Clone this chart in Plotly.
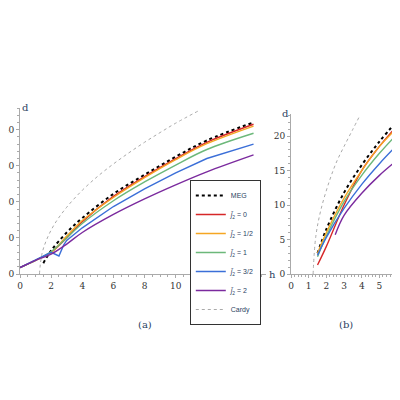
import plotly.graph_objects as go

# Panel (a)
h_a = [0, 1, 2, 3, 4, 6, 8, 10, 12, 15]
meg_h_a = [1.5, 2, 3, 4, 6, 8, 10, 12, 15]
meg_a = [3, 6.5, 11.5, 15.5, 22.2, 27.5, 32.5, 37, 42]
red_a = [1.8, 3.8, 6, 10, 14.5, 21.5, 27, 32, 36.5, 41.5]
orange_a = [1.8, 3.8, 6, 10.5, 14.8, 21.2, 26.7, 31.7, 36.1, 41]
green_a = [1.8, 3.8, 6.2, 10, 14, 20.3, 25.5, 30.2, 34.5, 39]
blue_h_a = [0, 1, 2, 2.5, 2.8, 3, 4, 6, 8, 10, 12, 15]
blue_a = [1.8, 3.8, 6, 5, 8, 9.3, 12.8, 18.7, 23.6, 28, 32, 36]
purple_h_a = [0, 1, 2, 3, 4, 6, 8, 10, 12, 15]
purple_a = [1.8, 3.8, 5.5, 8.3, 11.5, 16.5, 20.8, 24.7, 28.3, 33]
cardy_h_a = [1.25, 1.4, 1.7, 2.2, 3, 4, 5, 6, 7, 8, 9, 10, 11.5]
cardy_a = [0, 5.4, 9.4, 13.7, 18.5, 23.2, 27.1, 30.5, 33.6, 36.5, 39.2, 41.8, 45.3]

# Panel (b)
h_b = [1.5, 2, 3, 4, 5, 6]
meg_b = [3, 6.5, 11.8, 15.8, 19.2, 22.2]
red_b = [1.3, 4, 10, 15, 18.5, 21.5]
orange_b = [3, 6, 11, 15, 18.5, 21.2]
green_b = [2.5, 5.5, 10.5, 14.3, 17.5, 20.3]
blue_b = [2.7, 5.3, 9.5, 13, 16, 18.7]
purple_h_b = [2.5, 3, 4, 5, 6]
purple_b = [5.7, 8.5, 11.7, 14.3, 16.5]
cardy_h_b = [1.25, 1.4, 1.7, 2.2, 2.6, 3, 3.5, 3.9]
cardy_b = [0, 5.4, 9.4, 13.7, 16.4, 18.5, 21, 23]

names = ["MEG", "<i>j̄</i><sub>2</sub> = 0", "<i>j̄</i><sub>2</sub> = 1/2",
         "<i>j̄</i><sub>2</sub> = 1", "<i>j̄</i><sub>2</sub> = 3/2",
         "<i>j̄</i><sub>2</sub> = 2", "Cardy"]
colors = ["black", "#d62728", "#f5a623", "#6cb87a", "#3b6fd8", "#7b2a9e", "#aaaaaa"]
dashes = ["dot", "solid", "solid", "solid", "solid", "solid", "dot"]
widths = [2, 1.4, 1.4, 1.4, 1.4, 1.4, 1]

series_a = [(meg_h_a, meg_a), (h_a, red_a), (h_a, orange_a), (h_a, green_a),
            (blue_h_a, blue_a), (purple_h_a, purple_a), (cardy_h_a, cardy_a)]
series_b = [(h_b, meg_b), (h_b, red_b), (h_b, orange_b), (h_b, green_b),
            (h_b, blue_b), (purple_h_b, purple_b), (cardy_h_b, cardy_b)]

fig = go.Figure()
for i, (x, y) in enumerate(series_a):
    fig.add_trace(go.Scatter(x=x, y=y, mode="lines", name=names[i],
                             line=dict(color=colors[i], dash=dashes[i], width=widths[i],
                                       shape="linear" if i == 4 else "spline"),
                             xaxis="x", yaxis="y"))
for i, (x, y) in enumerate(series_b):
    fig.add_trace(go.Scatter(x=x, y=y, mode="lines", showlegend=False,
                             line=dict(color=colors[i], dash=dashes[i], width=widths[i], shape="spline"),
                             xaxis="x2", yaxis="y2"))

ax = dict(showgrid=False, zeroline=False, showline=True, linecolor="#aaaaaa", linewidth=1,
          ticks="outside", ticklen=3, tickcolor="#aaaaaa", tickfont=dict(size=9, color="#333"),
          automargin=False,
          minor=dict(ticks="outside", ticklen=2, tickcolor="#aaaaaa"))
fig.update_layout(
    width=400, height=400, margin=dict(l=0, r=0, t=0, b=0, autoexpand=False),
    paper_bgcolor="white", plot_bgcolor="white",
    font=dict(family="DejaVu Serif", size=9),
    xaxis=dict(ax, domain=[0.03, 0.645], range=[0, 15.8], dtick=2, anchor="y", minor_dtick=0.5),
    yaxis=dict(ax, domain=[0.335, 0.75], range=[0, 46], dtick=10, anchor="x", minor_dtick=2),
    xaxis2=dict(ax, domain=[0.7075, 0.975], range=[0, 6.05], dtick=1, anchor="y2", minor_dtick=0.2),
    yaxis2=dict(ax, domain=[0.335, 0.735], range=[0, 23.2], dtick=5, anchor="x2", minor_dtick=1),
    legend=dict(x=0.632, y=0.57, xanchor="right", yanchor="top", bgcolor="white",
                bordercolor="#333", borderwidth=1, font=dict(size=7, family="Liberation Sans"),
                tracegroupgap=0, itemwidth=30),
    annotations=[
        dict(text="d", x=0.03, y=0.77, xref="paper", yref="paper", showarrow=False, font=dict(size=10)),
        dict(text="h", x=0.66, y=0.335, xref="paper", yref="paper", showarrow=False, font=dict(size=10)),
        dict(text="d", x=0.708, y=0.755, xref="paper", yref="paper", showarrow=False, font=dict(size=10)),
        dict(text="h", x=0.99, y=0.335, xref="paper", yref="paper", showarrow=False, font=dict(size=10)),
        dict(text="(a)", x=0.32, y=0.19, xref="paper", yref="paper", showarrow=False, font=dict(size=10)),
        dict(text="(b)", x=0.868, y=0.19, xref="paper", yref="paper", showarrow=False, font=dict(size=10)),
    ],
)
fig.write_html("out.html")
